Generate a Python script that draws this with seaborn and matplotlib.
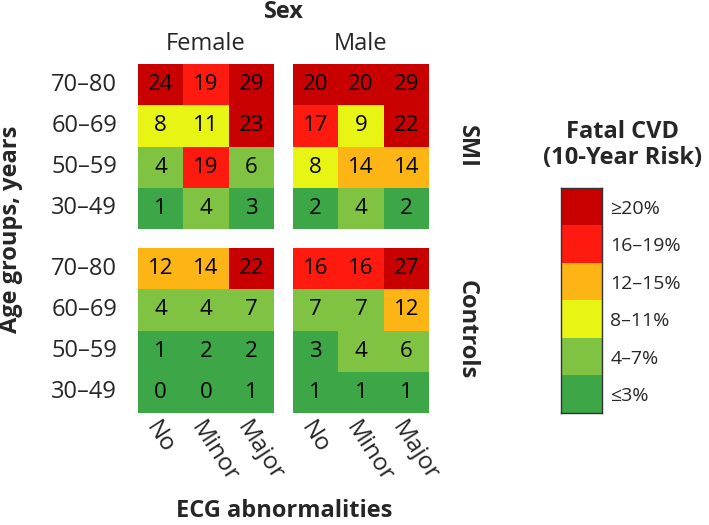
import numpy as np
import pandas as pd
import matplotlib
matplotlib.use("Agg")
import matplotlib.pyplot as plt
from matplotlib.colors import ListedColormap, BoundaryNorm
import seaborn as sns

sns.set_theme(style="white")
plt.rcParams['font.family'] = ['Open Sans', 'DejaVu Sans']

age_groups = ["70–80", "60–69", "50–59", "30–49"]
ecg = ["No", "Minor", "Major"]
sexes = ["Female", "Male"]
groups = ["SMI", "Controls"]

female_smi = [[24, 19, 29], [8, 11, 23], [4, 19, 6], [1, 4, 3]]
male_smi = [[20, 20, 29], [17, 9, 22], [8, 14, 14], [2, 4, 2]]
female_ctrl = [[12, 14, 22], [4, 4, 7], [1, 2, 2], [0, 0, 1]]
male_ctrl = [[16, 16, 27], [7, 7, 12], [3, 4, 6], [1, 1, 1]]

bin_labels = ["≤3%", "4–7%", "8–11%", "12–15%", "16–19%", "≥20%"]
bin_edges = [-0.5, 3.5, 7.5, 11.5, 15.5, 19.5, 100]
colors = ["#3da646", "#80c342", "#e8f514", "#fdb515", "#ff1a10", "#c80000"]

cmap = ListedColormap(colors)
norm = BoundaryNorm(bin_edges, cmap.N)

W, H = 709, 525
fig = plt.figure(figsize=(W / 100, H / 100), dpi=100)

def fx(px):
    return px / W

def fy(py):
    return 1 - py / H

panel_x = {"Female": 138, "Male": 293}
panel_y = {"SMI": 64, "Controls": 248}
pw, ph = 136, 165

data = {("Female", "SMI"): female_smi, ("Male", "SMI"): male_smi,
        ("Female", "Controls"): female_ctrl, ("Male", "Controls"): male_ctrl}

fs = 16
bfs = 17
for (sex, grp), vals in data.items():
    x0, y0 = panel_x[sex], panel_y[grp]
    ax = fig.add_axes([fx(x0), fy(y0 + ph), pw / W, ph / H])
    df = pd.DataFrame(vals, index=age_groups, columns=ecg)
    sns.heatmap(df, ax=ax, cmap=cmap, norm=norm, annot=True, fmt="d", cbar=False,
                annot_kws={"fontsize": fs, "color": "black"}, linewidths=0)
    ax.tick_params(axis="y", length=0, pad=15)
    if sex == "Female":
        ax.set_yticklabels(age_groups, rotation=0, fontsize=17)
    else:
        ax.set_yticklabels([])
    if grp == "Controls":
        ax.set_xticklabels(ecg, rotation=-57, ha="left", va="top",
                           rotation_mode="anchor", fontsize=17.5)
        ax.tick_params(axis="x", length=0, pad=3)
    else:
        ax.set_xticklabels([])
        ax.tick_params(axis="x", length=0)
    ax.set_xlabel("")
    ax.set_ylabel("")

# Titles / labels
fig.text(fx(284), fy(12), "Sex", ha="center", va="center", fontsize=bfs, fontweight="bold")
fig.text(fx(206), fy(44), "Female", ha="center", va="center", fontsize=fs + 1)
fig.text(fx(361), fy(44), "Male", ha="center", va="center", fontsize=fs + 1)
fig.text(fx(467), fy(146), "SMI", ha="center", va="center", fontsize=bfs,
         fontweight="bold", rotation=-90)
fig.text(fx(467), fy(330), "Controls", ha="center", va="center", fontsize=bfs,
         fontweight="bold", rotation=-90)
fig.text(fx(11), fy(229), "Age groups, years", ha="center", va="center", fontsize=bfs,
         fontweight="bold", rotation=90)
fig.text(fx(284), fy(511), "ECG abnormalities", ha="center", va="center", fontsize=bfs,
         fontweight="bold")

# Legend
fig.text(fx(623), fy(132), "Fatal CVD", ha="center", va="center", fontsize=bfs, fontweight="bold")
fig.text(fx(623), fy(158), "(10-Year Risk)", ha="center", va="center", fontsize=bfs, fontweight="bold")
cax = fig.add_axes([fx(561), fy(413), 41 / W, 225 / H])
legend_df = pd.DataFrame({"v": [0, 4, 8, 12, 16, 20][::-1]})
sns.heatmap(legend_df, ax=cax, cmap=cmap, norm=norm, cbar=False, annot=False)
cax.set_xticks([])
cax.yaxis.tick_right()
cax.set_yticks(np.arange(6) + 0.5)
cax.set_yticklabels(bin_labels[::-1], rotation=0, fontsize=14)
cax.tick_params(length=0, pad=6)
cax.set_ylabel("")
for s in cax.spines.values():
    s.set_visible(True)
    s.set_edgecolor("#333333")
    s.set_linewidth(1)

fig.savefig("out.png", dpi=100)
